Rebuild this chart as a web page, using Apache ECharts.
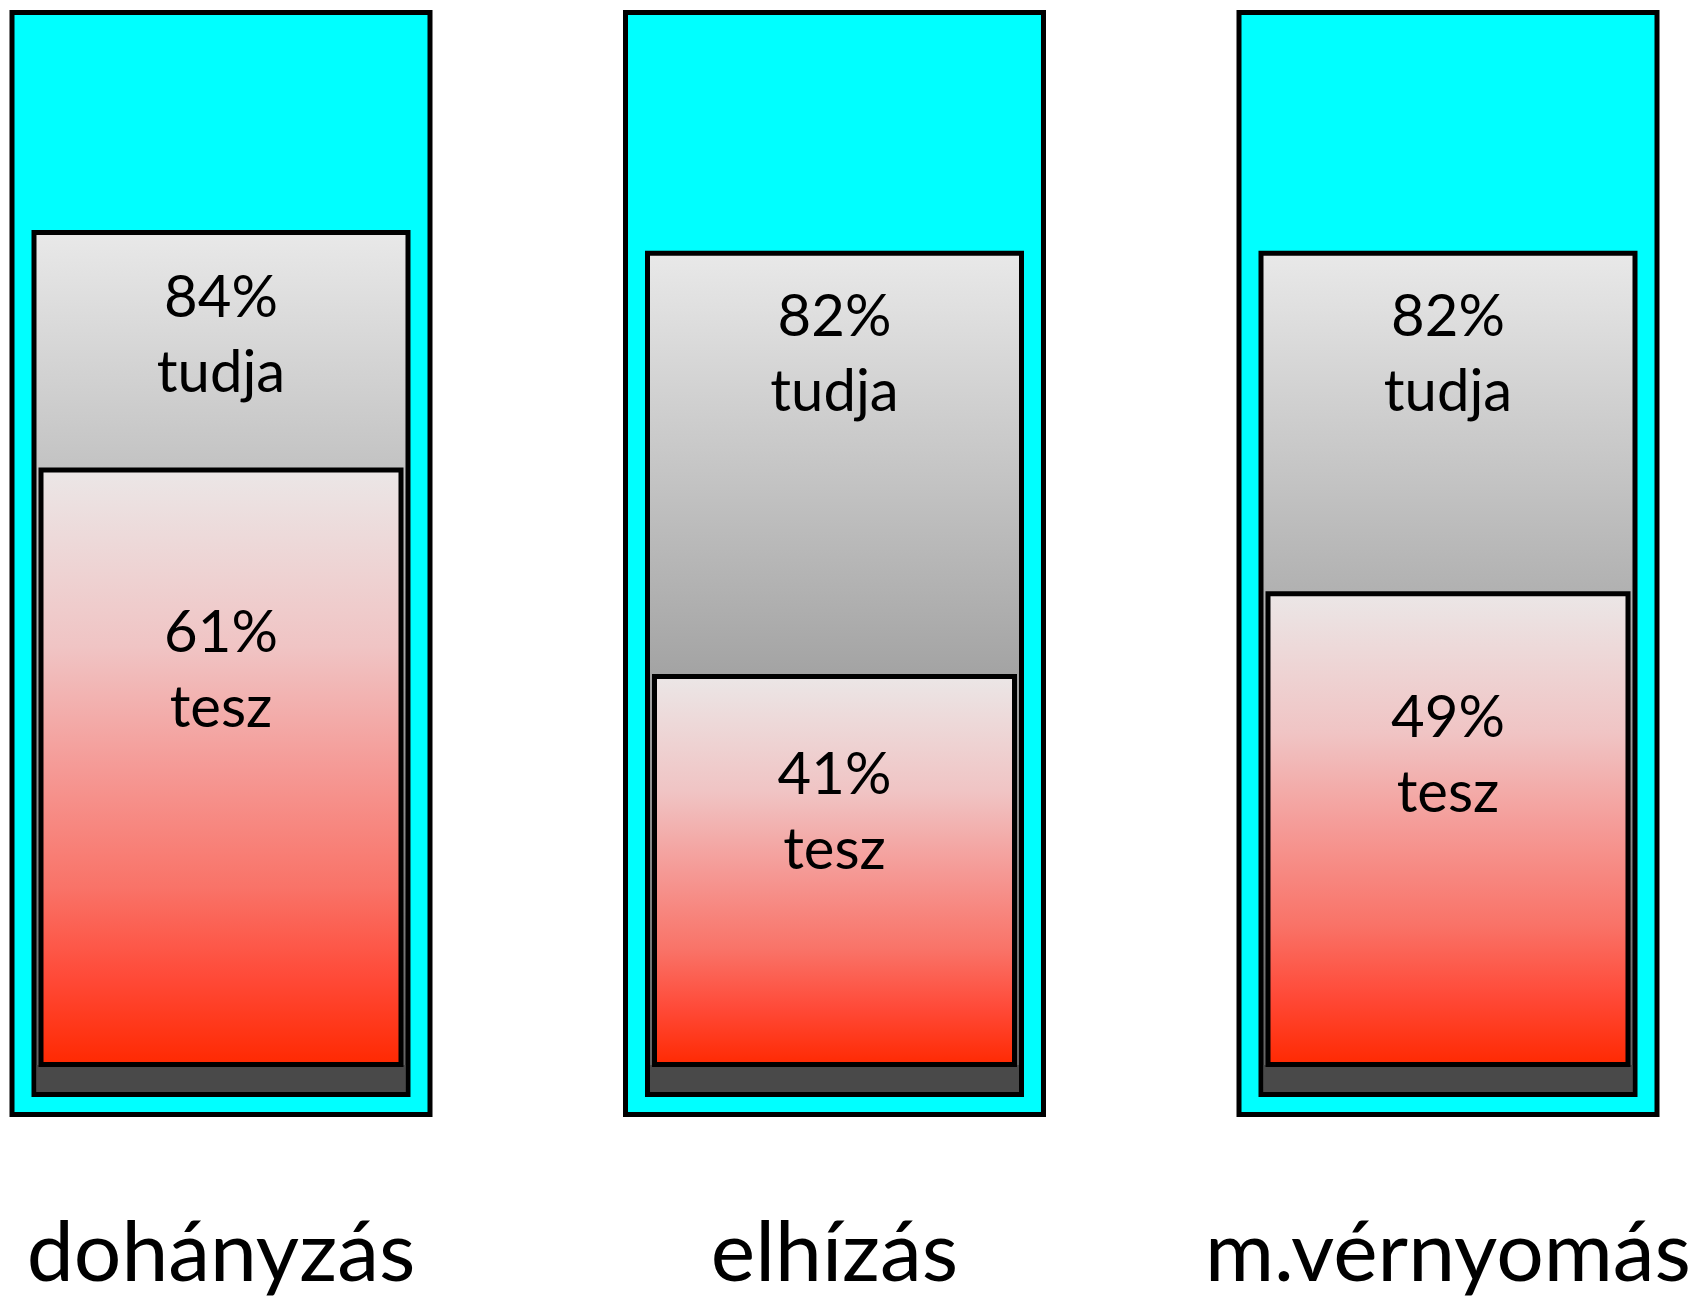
<!DOCTYPE html>
<html>
<head>
<meta charset="utf-8">
<script src="https://cdn.jsdelivr.net/npm/echarts@6/dist/echarts.min.js"></script>
<style>
    html, body { margin: 0; padding: 0; background: #ffffff; }
    #chart { width: 1704px; height: 1299px; }
</style>
</head>
<body>
<div id="chart"></div>
<script>
// Chart data
const categories = ['dohányzás', 'elhízás', 'm.vérnyomás'];
const tudjaValues = [84, 82, 82];
const teszValues = [61, 41, 49];
const tudjaWord = 'tudja';
const teszWord = 'tesz';

const chart = echarts.init(document.getElementById('chart'));

// Gradients for the boxes
const grayFill = new echarts.graphic.LinearGradient(0, 0, 0, 1, [
    { offset: 0, color: '#e9e9e9' },
    { offset: 1, color: '#5e5e5e' }
]);
const redFill = new echarts.graphic.LinearGradient(0, 0, 0, 1, [
    { offset: 0, color: '#ebe7e7' },
    { offset: 0.3, color: '#f0c4c4' },
    { offset: 0.5, color: '#f59a96' },
    { offset: 0.7, color: '#f97368' },
    { offset: 0.85, color: '#ff4a38' },
    { offset: 1, color: '#ff2800' }
]);

const LINE = 5;
const labelFont = '58px Lato';

// Draw one nested box group per category
const renderItem = (params, api) => {
    const i = api.value(0);
    const tudja = api.value(1);
    const tesz = api.value(2);
    const base = api.coord([i, 0]);
    const cx = base[0];
    const y0 = base[1];
    const yTudja = api.coord([i, tudja])[1];
    const yTesz = api.coord([i, tesz])[1];
    const cs = params.coordSys;

    const frameTop = cs.y - 55;
    const frameBottom = y0 + 20;
    const redBottom = y0 - 30;

    const half = LINE / 2;
    const box = (x, y, w, h, fill) => ({
        type: 'rect',
        shape: { x: x + half, y: y + half, width: w - LINE, height: h - LINE },
        style: { fill: fill, stroke: '#000', lineWidth: LINE }
    });

    const grayH = y0 - yTudja;
    const redH = redBottom - yTesz;

    return {
        type: 'group',
        children: [
            box(cx - 211.5, frameTop, 423, frameBottom - frameTop, '#00ffff'),
            box(cx - 189.5, yTudja, 379, grayH, grayFill),
            {
                type: 'rect',
                shape: { x: cx - 184.5, y: redBottom - 2, width: 369, height: y0 - LINE - redBottom + 2 },
                style: { fill: '#494949' }
            },
            box(cx - 182.5, yTesz, 365, redH, redFill),
            {
                type: 'text',
                x: cx,
                y: yTudja + 0.105 * grayH - 60,
                style: {
                    text: tudjaValues[i] + '%\n' + tudjaWord,
                    font: labelFont,
                    lineHeight: 75,
                    align: 'center',
                    verticalAlign: 'top',
                    fill: '#000'
                }
            },
            {
                type: 'text',
                x: cx,
                y: yTesz + 0.314 * redH - 60,
                style: {
                    text: teszValues[i] + '%\n' + teszWord,
                    font: labelFont,
                    lineHeight: 75,
                    align: 'center',
                    verticalAlign: 'top',
                    fill: '#000'
                }
            }
        ]
    };
};

const option = {
    animation: false,
    backgroundColor: '#ffffff',
    grid: {
        left: 221,
        right: 256,
        top: 65,
        bottom: 202
    },
    xAxis: {
        type: 'category',
        data: categories,
        boundaryGap: false,
        axisLine: { show: false },
        axisTick: { show: false },
        axisLabel: {
            interval: 0,
            margin: 115,
            fontFamily: 'Lato',
            fontSize: 84,
            color: '#000'
        }
    },
    yAxis: {
        type: 'value',
        min: 0,
        max: 100,
        show: false,
        splitLine: { show: false }
    },
    series: [
        {
            type: 'custom',
            renderItem: renderItem,
            clip: false,
            encode: { x: 0, y: [1, 2] },
            data: categories.map((c, i) => [i, tudjaValues[i], teszValues[i]])
        }
    ]
};

chart.setOption(option);
</script>
</body>
</html>
